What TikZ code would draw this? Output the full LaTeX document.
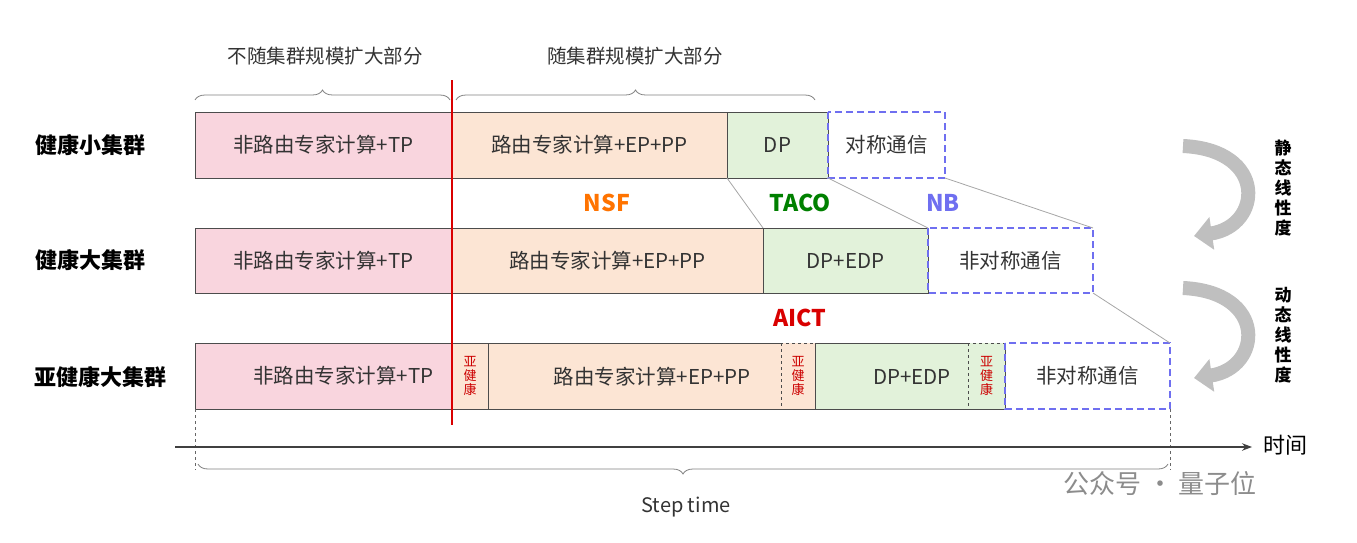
\documentclass[tikz,border=0pt]{standalone}
\usepackage{fontspec}
\setmainfont{Noto Sans CJK SC}
\usetikzlibrary{arrows.meta,decorations.pathreplacing}
\definecolor{pk}{HTML}{F9D5DE}
\definecolor{og}{HTML}{FCE5D4}
\definecolor{gn}{HTML}{E2F2DA}
\definecolor{bl}{HTML}{6F6FF0}
\definecolor{tx}{HTML}{333333}
\tikzset{
 blk/.style={draw=black!70,line width=0.8pt,text=tx,font=\fontsize{20.5}{20}\selectfont},
 commbox/.style={draw=bl,dash pattern=on 7pt off 4pt,line width=1.4pt,text=tx,font=\fontsize{20.5}{20}\selectfont},
 sub/.style={draw=black!70,dashed,line width=0.6pt,fill=og,text=red!80!black,font=\fontsize{13}{14}\selectfont,align=center},
 rl/.style={font=\bfseries\fontsize{22}{22}\selectfont,text=black},
 gl/.style={draw=black!35,line width=0.8pt},
 tag/.style={font=\bfseries\fontsize{23}{23}\selectfont},
 carr/.style={line width=14pt,draw=black!25,-{Triangle[width=32pt,length=18pt]}},
 vt/.style={font=\bfseries\fontsize{17}{20}\selectfont,align=center},
 brc/.style={black!50,line width=0.8pt,decorate,decoration={brace,amplitude=10pt}},
}
\begin{document}
\begin{tikzpicture}[x=1pt,y=-1pt]
\useasboundingbox (0,0) rectangle (1357,543);
% row 1
\draw[blk,fill=pk] (195,112) rectangle node{非路由专家计算+TP} (452,178);
\draw[blk,fill=og] (452,112) rectangle node{路由专家计算+EP+PP} (727,178);
\draw[blk,fill=gn] (727,112) rectangle node{DP} (828,178);
\draw[commbox] (828,112) rectangle node{对称通信} (945,178);
% row 2
\draw[blk,fill=pk] (195,228) rectangle node{非路由专家计算+TP} (452,293);
\draw[blk,fill=og] (452,228) rectangle node{路由专家计算+EP+PP} (763,293);
\draw[blk,fill=gn] (763,228) rectangle node{DP+EDP} (928,293);
\draw[commbox] (928,228) rectangle node{非对称通信} (1093,293);
% row 3
\draw[blk,fill=pk] (195,343) rectangle node{\hspace*{40pt}非路由专家计算+TP} (452,409);
\draw[blk,fill=og] (452,343) rectangle (815,409);
\draw[blk,fill=gn] (815,343) rectangle (1005,409);
\node[blk,draw=none] at (652,377) {路由专家计算+EP+PP};
\node[blk,draw=none] at (912,377) {DP+EDP};
\draw[sub] (452,343) rectangle node{亚\\健\\康} (488,409);
\draw[blk,fill=none] (452,343) rectangle (488,409);
\draw[sub] (781,343) rectangle node{亚\\健\\康} (815,409);
\draw[sub,fill=gn] (968,343) rectangle node{亚\\健\\康} (1005,409);
\draw[commbox] (1005,343) rectangle node{非对称通信} (1170,409);
% connectors
\draw[gl] (727,178) -- (763,228);
\draw[gl] (828,178) -- (928,228);
\draw[gl] (945,178) -- (1093,228);
\draw[gl] (1093,293) -- (1170,343);
% red line
\draw[red!85!black,line width=2pt] (452,80) -- (452,425);
% row labels
\node[rl] at (90,145) {健康小集群};
\node[rl] at (90,260) {健康大集群};
\node[rl] at (100,377) {亚健康大集群};
% tags
\node[tag,text=orange!90!red] at (607,203) {NSF};
\node[tag,text=green!50!black] at (800,203) {TACO};
\node[tag,text=bl] at (943,203) {NB};
\node[tag,text=red!85!black] at (800,318) {AICT};
% braces
\draw[brc] (195,100) -- (450,100);
\node[font=\fontsize{19.5}{19}\selectfont,text=tx] at (325,56) {不随集群规模扩大部分};
\draw[brc] (456,100) -- (815,100);
\node[font=\fontsize{19.5}{19}\selectfont,text=tx] at (635,56) {随集群规模扩大部分};
\draw[brc,decoration={mirror}] (198,464) -- (1168,464);
\node[font=\fontsize{20}{20}\selectfont,text=tx] at (686,507) {Step time};
% dashed verticals and axis
\draw[black!60,dashed,line width=0.7pt] (195,409) -- (195,470);
\draw[black!60,dashed,line width=0.7pt] (1170,409) -- (1170,470);
\draw[black!75,line width=1.2pt,-{Stealth[length=10pt]}] (175,447) -- (1252,447);
\node[font=\fontsize{22}{22}\selectfont] at (1285,445) {时间};
% curved arrows
\draw[carr] (1183,146) .. controls (1268,150) and (1262,226) .. (1194,236);
\draw[carr] (1183,288) .. controls (1268,292) and (1262,368) .. (1194,378);
\node[vt] at (1283,188) {静\\态\\线\\性\\度};
\node[vt] at (1283,335) {动\\态\\线\\性\\度};
% watermark
\node[font=\fontsize{26}{26}\selectfont,text=black!45] at (1160,484) {公众号 · 量子位};
\end{tikzpicture}
\end{document}
